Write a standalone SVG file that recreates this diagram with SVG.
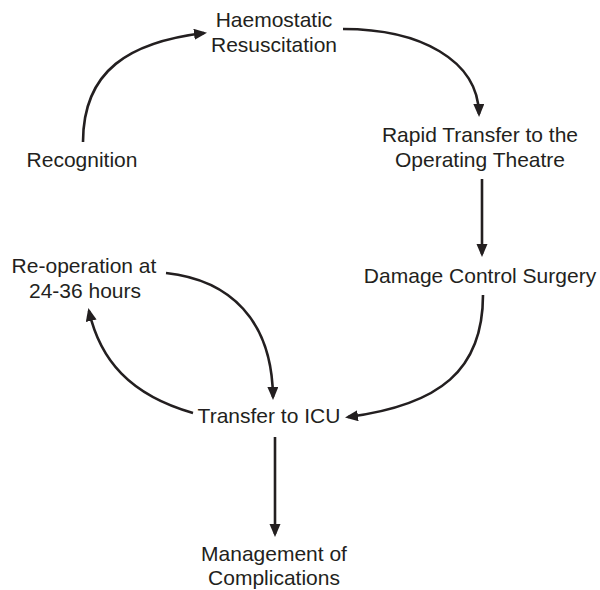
<svg xmlns="http://www.w3.org/2000/svg" width="600" height="590" viewBox="0 0 600 590">
<style>
text{font-family:"Liberation Sans",Arial,sans-serif;font-size:21px;fill:#231f20;text-anchor:middle}
.c{fill:none;stroke:#231f20;stroke-width:2.6}
</style>
<defs>
<marker id="ah" markerUnits="userSpaceOnUse" markerWidth="14" markerHeight="12" refX="10" refY="5.5" orient="auto">
<path d="M0,0 L13,5.5 L0,11 z" fill="#231f20"/>
</marker>
</defs>
<rect width="600" height="590" fill="#fff"/>
<g id="connectors">
<path class="c" d="M83,142 C83,70 130,42 204,33" marker-end="url(#ah)"/>
<path class="c" d="M343,29 C420,29 478,60 479,114" marker-end="url(#ah)"/>
<path class="c" d="M482,179 L482,254" marker-end="url(#ah)"/>
<path class="c" d="M483,295 C483,370 440,405 348,417" marker-end="url(#ah)"/>
<path class="c" d="M166,273 C230,280 272,320 273,397" marker-end="url(#ah)"/>
<path class="c" d="M193,413 C130,395 100,360 89,311" marker-end="url(#ah)"/>
<path class="c" d="M275,437 L275,534" marker-end="url(#ah)"/>
</g>
<g id="recognition"><text x="82" y="167">Recognition</text></g>
<g id="haemostatic"><text x="274" y="27">Haemostatic</text><text x="274" y="52">Resuscitation</text></g>
<g id="rapid"><text x="480" y="142">Rapid Transfer to the</text><text x="480" y="167">Operating Theatre</text></g>
<g id="damage"><text x="480" y="283">Damage Control Surgery</text></g>
<g id="reoperation"><text x="84" y="273">Re-operation at</text><text x="85" y="298">24-36 hours</text></g>
<g id="icu"><text x="269" y="423">Transfer to ICU</text></g>
<g id="management"><text x="274" y="561">Management of</text><text x="274" y="585">Complications</text></g>
</svg>
